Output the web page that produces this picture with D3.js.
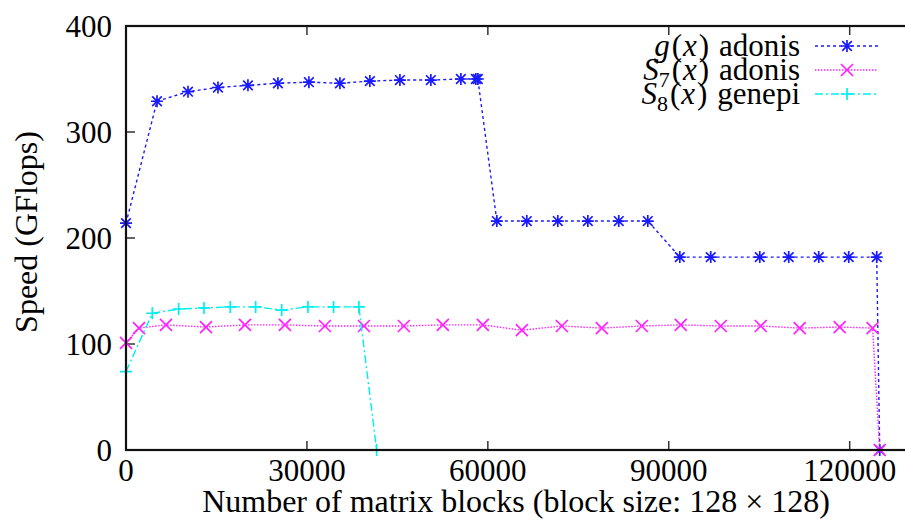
<!DOCTYPE html>
<html>
<head>
<meta charset="utf-8">
<script src="https://cdn.jsdelivr.net/npm/d3@7"></script>
<style>
body { margin: 0; background: #fff; }
</style>
</head>
<body>
<svg id="chart" width="905" height="522"></svg>
<script>
// series: [block count, GFlops]
const g_adonis = [
    [0, 214], [5140, 329], [10280, 338], [15250, 342], [20220, 344], [25190, 346],
    [30330, 347], [35470, 346], [40440, 348], [45420, 349], [50550, 349], [55530, 350],
    [58010, 350], [58340, 350],
    [61490, 216], [66460, 216], [71600, 216], [76580, 216], [81710, 216], [86520, 216],
    [91830, 182], [96960, 182], [105090, 182], [109890, 182], [114870, 182], [119840, 182],
    [124480, 182], [124980, 0]
]
const s7_adonis = [
    [0, 101], [2150, 115], [6630, 118], [13260, 116], [19730, 118], [26350, 118],
    [32980, 117], [39450, 117], [46080, 117], [52540, 118], [59170, 118], [65640, 113],
    [72270, 117], [78900, 115], [85530, 117], [91990, 118], [98620, 117], [105250, 117],
    [111710, 115], [118340, 116], [123800, 115], [124980, 0]
]
const s8_genepi = [
    [0, 74], [4360, 129], [8730, 133], [12930, 134], [17290, 135], [21500, 135],
    [25810, 132], [30170, 135], [34420, 135], [38620, 135], [41560, 0]
]
const xTicks = [0, 30000, 60000, 90000, 120000]
const yTicks = [0, 100, 200, 300, 400]

const FONT = "'Liberation Serif', 'Times New Roman', Times, 'DejaVu Serif', serif"
const FS = 31

const svg = d3.select("#chart")
const plotLeft = 126, plotTop = 26, plotBottom = 450, plotRight = 910

const x = d3.scaleLinear().domain([0, 130000]).range([plotLeft, plotRight])
const y = d3.scaleLinear().domain([0, 400]).range([plotBottom, plotTop])

function label(px, py, anchor, str, size) {
    return svg.append("text").attr("x", px).attr("y", py)
        .attr("text-anchor", anchor).attr("font-family", FONT).attr("font-size", size || FS)
        .attr("fill", "#000").text(str)
}

// ticks (inward, mirrored on top)
xTicks.forEach(function(t) {
    svg.append("line").attr("x1", x(t)).attr("x2", x(t)).attr("y1", plotBottom).attr("y2", plotBottom - 9)
        .attr("stroke", "#333").attr("stroke-width", 1.5)
    svg.append("line").attr("x1", x(t)).attr("x2", x(t)).attr("y1", plotTop).attr("y2", plotTop + 9)
        .attr("stroke", "#333").attr("stroke-width", 1.5)
    label(x(t), plotBottom + 31, "middle", t)
})
yTicks.forEach(function(t) {
    svg.append("line").attr("x1", plotLeft).attr("x2", plotLeft + 9).attr("y1", y(t)).attr("y2", y(t))
        .attr("stroke", "#333").attr("stroke-width", 1.5)
    label(plotLeft - 14, y(t) + 11, "end", t)
})

// series
const series = [
    {name: "g", data: g_adonis, color: "#1a1aff", dash: "3,3", marker: "star"},
    {name: "s7", data: s7_adonis, color: "#ff22ff", dash: "1.5,1.5", marker: "cross"},
    {name: "s8", data: s8_genepi, color: "#00eeee", dash: "8,3,2,3", marker: "plus"}
]

const line = d3.line().x(d => x(d[0])).y(d => y(d[1]))

function marker(g, cx, cy, kind, color) {
    const r = 6
    let path = ""
    if (kind == "plus" || kind == "star") {
        path += `M${cx - r},${cy}H${cx + r}M${cx},${cy - r}V${cy + r}`
    }
    if (kind == "cross" || kind == "star") {
        const k = kind == "star" ? r * 0.8 : r
        path += `M${cx - k},${cy - k}L${cx + k},${cy + k}M${cx - k},${cy + k}L${cx + k},${cy - k}`
    }
    g.append("path").attr("d", path).attr("stroke", color).attr("stroke-width", 1.7).attr("fill", "none")
}

series.forEach(function(s) {
    svg.append("path").datum(s.data).attr("d", line)
        .attr("fill", "none").attr("stroke", s.color).attr("stroke-width", 1.4)
        .attr("stroke-dasharray", s.dash)
    const g = svg.append("g")
    s.data.forEach(d => marker(g, x(d[0]), y(d[1]), s.marker, s.color))
})

// frame
svg.append("rect").attr("x", plotLeft).attr("y", plotTop)
    .attr("width", plotRight - plotLeft).attr("height", plotBottom - plotTop)
    .attr("fill", "none").attr("stroke", "#111").attr("stroke-width", 2.2)

// legend
const legendRows = [
    {fn: "g", sub: null, host: "adonis"},
    {fn: "S", sub: "7", host: "adonis"},
    {fn: "S", sub: "8", host: "genepi"}
]
legendRows.forEach(function(r, i) {
    const ly = 46 + i * 24
    const t = label(800, ly + 10, "end", null, 31)
    t.append("tspan").attr("font-style", "italic").text(r.fn)
    if (r.sub) t.append("tspan").attr("font-size", 22).attr("dy", 7).text(r.sub)
    t.append("tspan").attr("dy", r.sub ? -7 : 0).attr("dx", 2).text("(")
    t.append("tspan").attr("font-style", "italic").attr("dx", 1).text("x")
    t.append("tspan").attr("dx", 2).text(")")
    t.append("tspan").attr("dx", 10).text(r.host)
    const s = series[i]
    svg.append("line").attr("x1", 815).attr("x2", 878).attr("y1", ly).attr("y2", ly)
        .attr("stroke", s.color).attr("stroke-width", 1.4).attr("stroke-dasharray", s.dash)
    marker(svg, 847, ly, s.marker, s.color)
})

// axis titles
label(516, 512, "middle", "Number of matrix blocks (block size: 128 \u00d7 128)", 32)
label(0, 0, "middle", "Speed (GFlops)", 32).attr("transform", "translate(37,232) rotate(-90)")
</script>
</body>
</html>
